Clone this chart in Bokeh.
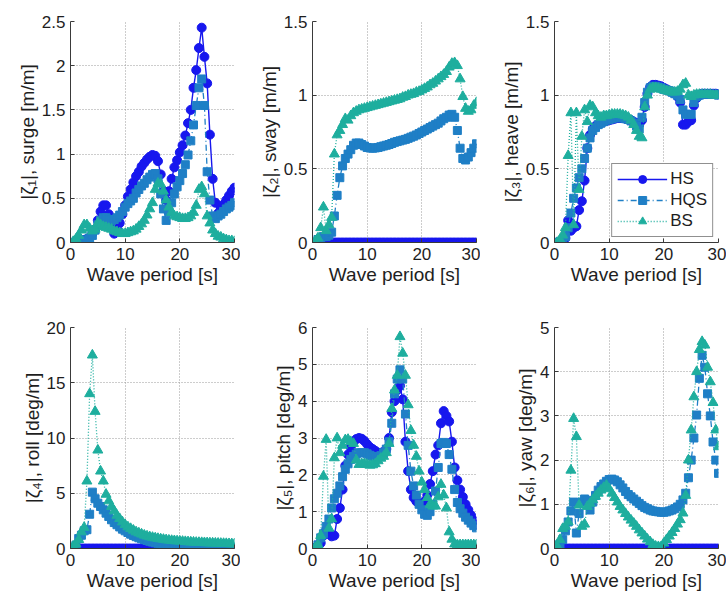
from bokeh.plotting import figure
from bokeh.layouts import column, row
from bokeh.models import FixedTicker, NumeralTickFormatter, Legend, LegendItem, Range1d
from bokeh.embed import file_html
from bokeh.resources import INLINE

# Wave period [s]
PERIOD = [0.5, 1.0, 1.5, 2.0, 2.5, 3.0, 3.5, 4.0, 4.5, 5.0,
          5.5, 6.0, 6.5, 7.0, 7.5, 8.0, 8.5, 9.0, 9.5, 10.0,
          10.5, 11.0, 11.5, 12.0, 12.5, 13.0, 13.5, 14.0, 14.5, 15.0,
          15.5, 16.0, 16.5, 17.0, 17.5, 18.0, 18.5, 19.0, 19.5, 20.0,
          20.5, 21.0, 21.5, 22.0, 22.5, 23.0, 23.5, 24.0, 24.5, 25.0,
          25.5, 26.0, 26.5, 27.0, 27.5, 28.0, 28.5, 29.0, 29.5, 30.0]

ZEROS = [0, 0, 0, 0, 0, 0, 0, 0, 0, 0,
         0, 0, 0, 0, 0, 0, 0, 0, 0, 0,
         0, 0, 0, 0, 0, 0, 0, 0, 0, 0,
         0, 0, 0, 0, 0, 0, 0, 0, 0, 0,
         0, 0, 0, 0, 0, 0, 0, 0, 0, 0,
         0, 0, 0, 0, 0, 0, 0, 0, 0, 0]

SURGE_HS = [0.0, 0.01, 0.01, 0.02, 0.03, 0.04, 0.06, 0.1, 0.15, 0.25,
            0.35, 0.42, 0.42, 0.32, 0.2, 0.1, 0.15, 0.22, 0.32, 0.42,
            0.52, 0.6, 0.68, 0.75, 0.8, 0.86, 0.9, 0.94, 0.97, 0.99,
            0.98, 0.92, 0.77, 0.58, 0.48, 0.58, 0.72, 0.85, 0.93, 1.02,
            1.1, 1.21, 1.35, 1.5, 1.75, 1.95, 2.2, 2.43, 2.1, 1.8,
            1.22, 0.72, 0.45, 0.33, 0.38, 0.43, 0.48, 0.53, 0.58, 0.62]
SURGE_HQS = [0.0, 0.0, 0.01, 0.01, 0.02, 0.03, 0.05, 0.08, 0.14, 0.2,
             0.25, 0.28, 0.28, 0.26, 0.25, 0.26, 0.28, 0.31, 0.35, 0.4,
             0.44, 0.47, 0.5, 0.56, 0.6, 0.64, 0.67, 0.71, 0.74, 0.77,
             0.78, 0.72, 0.55, 0.38, 0.25, 0.35, 0.45, 0.55, 0.63, 0.7,
             0.78, 0.88, 0.99, 1.15, 1.33, 1.55, 1.75, 1.85, 1.55, 0.8,
             0.48, 0.3, 0.27, 0.3, 0.32, 0.35, 0.38, 0.4, 0.42, 0.45]
SURGE_BS = [0.01, 0.04, 0.08, 0.14, 0.2, 0.2, 0.16, 0.13, 0.15, 0.22,
            0.2, 0.18, 0.17, 0.16, 0.15, 0.13, 0.12, 0.11, 0.1, 0.1,
            0.11, 0.12, 0.13, 0.15, 0.18, 0.21, 0.25, 0.31, 0.38, 0.45,
            0.6, 0.67, 0.66, 0.58, 0.48, 0.4, 0.34, 0.3, 0.29, 0.28,
            0.27, 0.27, 0.28, 0.3, 0.34, 0.42, 0.6, 0.63, 0.55, 0.3,
            0.22, 0.14, 0.1, 0.07, 0.06, 0.04, 0.03, 0.02, 0.02, 0.01]

SWAY_HS = ZEROS
SWAY_HQS = [0.0, 0.02, 0.03, 0.04, 0.04, 0.05, 0.07, 0.18, 0.32, 0.44,
            0.52, 0.57, 0.6, 0.63, 0.66, 0.675, 0.675, 0.665, 0.655, 0.645,
            0.642, 0.64, 0.642, 0.645, 0.65, 0.655, 0.66, 0.665, 0.672, 0.68,
            0.685, 0.69, 0.695, 0.7, 0.707, 0.715, 0.722, 0.73, 0.74, 0.75,
            0.76, 0.77, 0.78, 0.79, 0.8, 0.81, 0.825, 0.84, 0.85, 0.865,
            0.87, 0.85, 0.76, 0.64, 0.57, 0.56, 0.58, 0.61, 0.64, 0.67]
SWAY_BS = [0.01, 0.03, 0.1, 0.24, 0.08, 0.12, 0.17, 0.6, 0.73, 0.76,
           0.8, 0.84, 0.83, 0.86, 0.88, 0.89, 0.9, 0.905, 0.91, 0.915,
           0.92, 0.925, 0.93, 0.935, 0.94, 0.945, 0.95, 0.955, 0.96, 0.965,
           0.97, 0.975, 0.985, 0.99, 1.0, 1.005, 1.01, 1.02, 1.025, 1.035,
           1.045, 1.055, 1.07, 1.08, 1.095, 1.11, 1.125, 1.14, 1.16, 1.19,
           1.215, 1.22, 1.2, 1.11, 0.99, 0.91, 0.89, 0.9, 0.93, 0.95]

HEAVE_HS = [0.0, 0.005, 0.01, 0.03, 0.15, 0.08, 0.1, 0.11, 0.22, 0.28,
            0.42, 0.64, 0.73, 0.77, 0.79, 0.8, 0.81, 0.82, 0.825, 0.83,
            0.835, 0.84, 0.845, 0.845, 0.845, 0.84, 0.835, 0.83, 0.82, 0.81,
            0.8, 0.83, 0.92, 1.01, 1.055, 1.07, 1.07, 1.065, 1.06, 1.05,
            1.04, 1.03, 1.02, 1.01, 0.99, 0.95, 0.8, 0.8, 0.82, 0.83,
            0.93, 0.98, 1.0, 1.01, 1.01, 1.01, 1.01, 1.01, 1.01, 1.005]
HEAVE_HQS = [0.0, 0.005, 0.01, 0.04, 0.1, 0.2, 0.3, 0.37, 0.44, 0.5,
             0.57, 0.64, 0.71, 0.76, 0.78, 0.8, 0.81, 0.82, 0.83, 0.835,
             0.84, 0.845, 0.85, 0.85, 0.845, 0.84, 0.835, 0.825, 0.81, 0.79,
             0.77, 0.85, 0.95, 1.02, 1.05, 1.06, 1.06, 1.055, 1.05, 1.04,
             1.035, 1.03, 1.02, 1.01, 1.0, 0.97, 0.9, 0.87, 0.87, 0.87,
             0.95, 0.99, 1.0, 1.005, 1.005, 1.005, 1.005, 1.005, 1.005, 1.0]
HEAVE_BS = [0.0, 0.02, 0.05, 0.1, 0.59, 0.88, 0.12, 0.88, 0.36, 0.72,
            0.9, 0.82, 0.93, 0.92, 0.88, 0.86, 0.85, 0.86, 0.86, 0.865,
            0.87, 0.87, 0.87, 0.87, 0.865, 0.86, 0.85, 0.83, 0.8, 0.76,
            0.72, 0.71, 0.92, 1.0, 1.04, 1.05, 1.05, 1.045, 1.04, 1.035,
            1.03, 1.025, 1.02, 1.02, 1.025, 1.04, 1.07, 1.08, 1.0, 0.99,
            1.0, 1.005, 1.005, 1.005, 1.005, 1.005, 1.005, 1.0, 1.0, 1.0]

ROLL_HS = ZEROS
ROLL_HQS = [0.1, 0.3, 0.9, 1.2, 1.6, 1.7, 3.1, 5.1, 4.5, 4.1,
            3.8, 3.5, 3.2, 2.9, 2.6, 2.35, 2.15, 1.95, 1.75, 1.6,
            1.45, 1.3, 1.18, 1.07, 0.97, 0.88, 0.8, 0.72, 0.65, 0.58,
            0.52, 0.47, 0.42, 0.38, 0.34, 0.31, 0.28, 0.25, 0.23, 0.21,
            0.19, 0.18, 0.17, 0.16, 0.15, 0.14, 0.13, 0.13, 0.12, 0.12,
            0.12, 0.11, 0.11, 0.11, 0.1, 0.1, 0.1, 0.1, 0.1, 0.1]
ROLL_BS = [0.2, 0.4, 0.8, 1.5, 1.9, 6.1, 14.0, 17.5, 12.4, 8.9,
           7.0, 6.1, 4.9, 4.3, 3.8, 3.4, 3.0, 2.7, 2.4, 2.15,
           1.95, 1.8, 1.65, 1.5, 1.4, 1.3, 1.2, 1.12, 1.05, 1.0,
           0.95, 0.9, 0.86, 0.82, 0.78, 0.75, 0.72, 0.7, 0.68, 0.66,
           0.64, 0.62, 0.6, 0.58, 0.57, 0.55, 0.54, 0.53, 0.52, 0.51,
           0.5, 0.49, 0.48, 0.47, 0.46, 0.45, 0.44, 0.43, 0.42, 0.41]

PITCH_HS = [0.02, 0.06, 0.15, 0.35, 0.5, 0.4, 0.33, 0.35, 0.8, 1.1,
            1.6, 2.25, 2.55, 2.75, 2.88, 2.97, 3.0, 2.98, 2.92, 2.83,
            2.75, 2.7, 2.65, 2.6, 2.6, 2.62, 2.7, 3.0, 3.7, 4.0,
            4.3, 4.42, 4.05, 2.9, 2.1, 1.6, 1.38, 1.28, 1.22, 1.2,
            1.28, 1.45, 1.75, 2.1, 2.55, 2.8, 3.4, 3.73, 3.6, 3.45,
            2.9, 2.2, 1.85, 1.6, 1.4, 1.2, 1.05, 0.9, 0.76, 0.65]
PITCH_HQS = [0.02, 0.1, 0.29, 0.4, 0.6, 0.8, 1.1, 1.35, 1.5, 1.7,
             1.95, 2.15, 2.3, 2.42, 2.5, 2.56, 2.6, 2.6, 2.6, 2.57,
             2.53, 2.5, 2.48, 2.48, 2.52, 2.6, 2.7, 2.9, 3.4, 4.2,
             4.6, 4.85, 4.6, 3.65, 2.8, 2.1, 1.7, 1.45, 1.2, 1.05,
             0.93, 0.9, 1.0, 1.2, 1.56, 2.2, 2.85, 2.88, 2.85, 2.55,
             2.15, 1.6, 1.25, 1.08, 0.96, 0.85, 0.77, 0.69, 0.62, 0.56]
PITCH_BS = [0.02, 0.1, 0.35, 1.96, 2.96, 0.55, 0.8, 2.46, 3.0, 2.6,
            2.8, 2.95, 2.96, 2.9, 2.85, 2.4, 2.28, 2.3, 2.3, 2.28,
            2.26, 2.27, 2.3, 2.38, 2.45, 2.5, 2.6, 2.85, 3.8, 4.3,
            4.7, 5.75, 5.3, 4.7, 3.9, 3.2, 2.8, 2.5, 2.1, 1.8,
            1.6, 1.38, 1.2, 1.15, 1.15, 1.4, 1.74, 1.45, 1.1, 0.45,
            0.25, 0.12, 0.1, 0.1, 0.1, 0.1, 0.1, 0.1, 0.1, 0.1]

YAW_HS = ZEROS
YAW_HQS = [0.03, 0.1, 0.2, 0.4, 0.6, 0.85, 1.05, 0.35, 0.79, 1.05,
           1.12, 1.09, 0.87, 1.05, 1.2, 1.32, 1.4, 1.46, 1.52, 1.56,
           1.57, 1.55, 1.51, 1.44, 1.37, 1.29, 1.22, 1.17, 1.12, 1.07,
           1.02, 0.97, 0.93, 0.9, 0.87, 0.85, 0.84, 0.83, 0.82, 0.82,
           0.83, 0.85, 0.87, 0.9, 0.94, 1.0, 1.1, 1.25, 1.6, 2.0,
           2.5, 3.02, 3.85, 4.37, 4.1, 3.5, 3.0, 2.41, 2.0, 1.7]
YAW_BS = [0.05, 0.2, 0.45, 0.5, 0.6, 1.77, 2.94, 2.53, 0.98, 0.5,
          0.55, 0.95, 1.02, 1.1, 1.18, 1.25, 1.32, 1.38, 1.43, 1.35,
          1.25, 1.15, 1.05, 0.95, 0.87, 0.79, 0.71, 0.64, 0.57, 0.5,
          0.42, 0.35, 0.28, 0.21, 0.15, 0.09, 0.05, 0.04, 0.04, 0.12,
          0.2, 0.28, 0.36, 0.45, 0.55, 0.65, 0.8, 1.2, 2.0, 2.68,
          3.43, 4.0, 4.5, 4.68, 4.6, 4.1, 3.77, 3.3, 2.68, 2.3]

X_TICKS = [0, 10, 20, 30]
SERIES_NAMES = ["HS", "HQS", "BS"]

FONT = "Liberation Sans"
C_HS = "#1717ee"
C_HQS = "#1f7fc6"
C_BS = "#1eae9e"
TXT = "#1e1e1e"


def panel(ylabel, ymax, yticks, fmt, hs, hqs, bs, width, height,
          bl, br, bt, bb, legend=False):
    p = figure(width=width, height=height, output_backend="svg",
               toolbar_location=None,
               x_range=Range1d(0, 30), y_range=Range1d(0, ymax),
               min_border_left=bl, min_border_right=br,
               min_border_top=bt, min_border_bottom=bb)
    p.outline_line_color = None
    p.background_fill_color = "white"
    p.border_fill_color = "white"

    for ax in (p.xaxis[0], p.yaxis[0]):
        ax.axis_line_color = "#3a3a3a"
        ax.axis_line_width = 1
        ax.major_tick_in = 4
        ax.major_tick_out = 0
        ax.major_tick_line_color = "#3a3a3a"
        ax.minor_tick_line_color = None
        ax.major_label_text_font = FONT
        ax.major_label_text_font_size = "17px"
        ax.major_label_text_color = TXT
        ax.axis_label_text_font = FONT
        ax.axis_label_text_font_size = "19px"
        ax.axis_label_text_font_style = "normal"
        ax.axis_label_text_color = TXT
        ax.axis_label_standoff = 1
        ax.major_label_standoff = 5

    p.xaxis.ticker = FixedTicker(ticks=X_TICKS)
    p.xaxis.formatter = NumeralTickFormatter(format="0")
    p.yaxis.ticker = FixedTicker(ticks=yticks)
    p.yaxis.formatter = NumeralTickFormatter(format=fmt)
    p.xaxis.axis_label = "Wave period [s]"
    p.yaxis.axis_label = ylabel

    for g in (p.xgrid[0], p.ygrid[0]):
        g.grid_line_color = "#9a9a9a"
        g.grid_line_dash = "1 2"
        g.grid_line_width = 1

    l1 = p.line(PERIOD, hs, line_color=C_HS, line_width=1.4)
    m1 = p.scatter(PERIOD, hs, marker="circle", size=9,
                   fill_color=C_HS, line_color=C_HS)
    l2 = p.line(PERIOD, hqs, line_color=C_HQS, line_width=1.3,
                line_dash="6 3 1 3")
    m2 = p.scatter(PERIOD, hqs, marker="square", size=8,
                   fill_color=C_HQS, line_color=C_HQS)
    l3 = p.line(PERIOD, bs, line_color=C_BS, line_width=1.3,
                line_dash="1 2")
    m3 = p.scatter(PERIOD, bs, marker="triangle", size=10,
                   fill_color=C_BS, line_color=C_BS)

    if legend:
        lg = Legend(items=[LegendItem(label=SERIES_NAMES[0], renderers=[l1, m1]),
                           LegendItem(label=SERIES_NAMES[1], renderers=[l2, m2]),
                           LegendItem(label=SERIES_NAMES[2], renderers=[l3, m3])],
                    location="bottom_right")
        lg.margin = 5
        lg.padding = 5
        lg.spacing = 1
        lg.glyph_width = 50
        lg.glyph_height = 20
        lg.label_standoff = 3
        lg.label_text_font = FONT
        lg.label_text_font_size = "17px"
        lg.label_text_color = TXT
        lg.border_line_color = "#222222"
        lg.border_line_width = 1
        lg.background_fill_color = "white"
        lg.background_fill_alpha = 1.0
        p.add_layout(lg)
    return p


TOP_H = 290
BOT_H = 304

p1 = panel("|ζ₁|, surge [m/m]", 2.5, [0, 0.5, 1, 1.5, 2, 2.5], "0.[0]",
           SURGE_HS, SURGE_HQS, SURGE_BS, 240, TOP_H, 70, 6, 21, 48)
p2 = panel("|ζ₂|, sway [m/m]", 1.5, [0, 0.5, 1, 1.5], "0.[0]",
           SWAY_HS, SWAY_HQS, SWAY_BS, 240, TOP_H, 72, 4, 21, 48)
p3 = panel("|ζ₃|, heave [m/m]", 1.5, [0, 0.5, 1, 1.5], "0.[0]",
           HEAVE_HS, HEAVE_HQS, HEAVE_BS, 246, TOP_H, 74, 8, 21, 48,
           legend=True)
p4 = panel("|ζ₄|, roll [deg/m]", 20, [0, 5, 10, 15, 20], "0",
           ROLL_HS, ROLL_HQS, ROLL_BS, 240, BOT_H, 70, 6, 37, 46)
p5 = panel("|ζ₅|, pitch [deg/m]", 6, [0, 1, 2, 3, 4, 5, 6], "0",
           PITCH_HS, PITCH_HQS, PITCH_BS, 240, BOT_H, 72, 4, 37, 46)
p6 = panel("|ζ₆|, yaw [deg/m]", 5, [0, 1, 2, 3, 4, 5], "0",
           YAW_HS, YAW_HQS, YAW_BS, 246, BOT_H, 74, 8, 37, 46)

layout = column(row(p1, p2, p3), row(p4, p5, p6))

with open("out.html", "w") as f:
    f.write(file_html(layout, INLINE))
